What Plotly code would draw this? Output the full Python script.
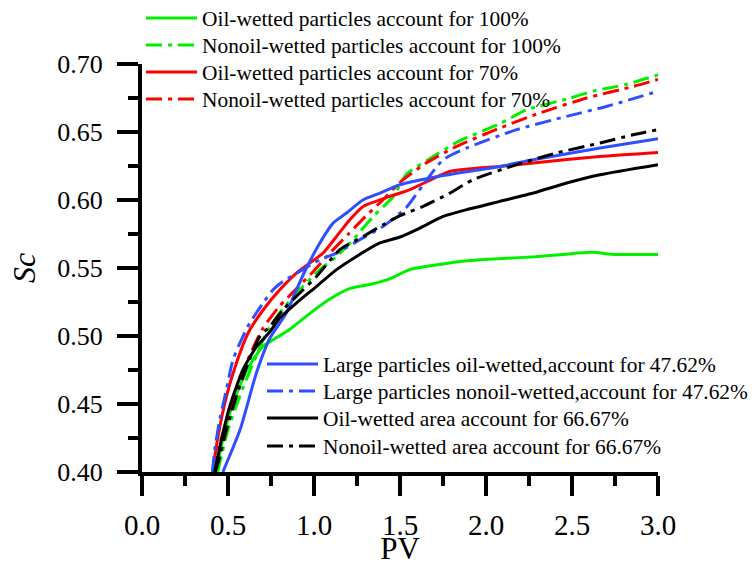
import plotly.graph_objects as go

# ---------------- data ----------------
green_oil_pv = [0.43, 0.47, 0.53, 0.61, 0.70, 0.76, 0.86, 0.98, 1.09, 1.21, 1.33, 1.44, 1.56, 1.75, 1.91, 2.10, 2.29, 2.45, 2.61, 2.75, 3.0]
green_oil_sc = [0.40, 0.424, 0.451, 0.475, 0.492, 0.497, 0.505, 0.517, 0.527, 0.535, 0.538, 0.542, 0.549, 0.553, 0.5555, 0.557, 0.5583, 0.560, 0.5615, 0.560, 0.560]

green_non_pv = [0.44, 0.452, 0.50, 0.568, 0.646, 0.724, 0.80, 0.917, 1.034, 1.131, 1.227, 1.344, 1.461, 1.535, 1.663, 1.837, 2.08, 2.238, 2.477, 2.634, 2.809, 3.0]
green_non_sc = [0.40, 0.4066, 0.431, 0.4556, 0.480, 0.5022, 0.5169, 0.534, 0.5488, 0.5585, 0.5708, 0.5879, 0.6026, 0.6186, 0.6296, 0.6428, 0.6561, 0.6664, 0.6745, 0.6804, 0.6848, 0.692]

red_oil_pv = [0.41, 0.442, 0.491, 0.549, 0.617, 0.705, 0.801, 0.898, 0.976, 1.053, 1.131, 1.208, 1.286, 1.441, 1.558, 1.79, 2.08, 2.275, 2.66, 3.0]
red_oil_sc = [0.40, 0.4262, 0.4556, 0.4801, 0.5022, 0.5193, 0.534, 0.5463, 0.5537, 0.561, 0.5732, 0.5855, 0.5953, 0.6026, 0.6076, 0.621, 0.6247, 0.6272, 0.632, 0.635]

red_non_pv = [0.415, 0.45, 0.5, 0.6, 0.7, 0.8, 0.9, 1.0, 1.1, 1.2, 1.3, 1.4, 1.5, 1.65, 1.829, 2.08, 2.313, 2.585, 2.856, 3.0]
red_non_sc = [0.40, 0.42, 0.44, 0.478, 0.505, 0.522, 0.535, 0.548, 0.562, 0.575, 0.588, 0.600, 0.613, 0.627, 0.6394, 0.6529, 0.664, 0.675, 0.6835, 0.6886]

blue_oil_pv = [0.47, 0.57, 0.665, 0.744, 0.84, 0.898, 0.956, 1.034, 1.111, 1.189, 1.286, 1.383, 1.5, 1.75, 2.08, 2.275, 2.663, 3.0]
blue_oil_sc = [0.40, 0.431, 0.4728, 0.4985, 0.517, 0.534, 0.55, 0.5684, 0.583, 0.5904, 0.6002, 0.6051, 0.6112, 0.618, 0.6247, 0.6296, 0.6382, 0.645]

blue_non_pv = [0.41, 0.423, 0.452, 0.491, 0.529, 0.587, 0.627, 0.704, 0.762, 0.82, 0.917, 1.034, 1.131, 1.266, 1.402, 1.538, 1.635, 1.751, 1.887, 2.178, 2.469, 2.70, 3.0]
blue_non_sc = [0.40, 0.4164, 0.4385, 0.4605, 0.4826, 0.4997, 0.5096, 0.5243, 0.534, 0.5401, 0.5475, 0.5561, 0.561, 0.5708, 0.5806, 0.5947, 0.6113, 0.6296, 0.6382, 0.6517, 0.6615, 0.6688, 0.6799]

black_oil_pv = [0.423, 0.462, 0.51, 0.587, 0.665, 0.743, 0.801, 0.898, 1.015, 1.131, 1.247, 1.383, 1.5, 1.616, 1.751, 1.887, 2.08, 2.275, 2.469, 2.663, 3.0]
black_oil_sc = [0.40, 0.4238, 0.4482, 0.4752, 0.492, 0.503, 0.5132, 0.5243, 0.5365, 0.5488, 0.5585, 0.5684, 0.5728, 0.5794, 0.5879, 0.5929, 0.599, 0.6051, 0.6125, 0.6186, 0.626]

black_non_pv = [0.425, 0.442, 0.491, 0.549, 0.617, 0.685, 0.743, 0.82, 0.937, 1.015, 1.15, 1.286, 1.402, 1.5, 1.635, 1.79, 1.926, 2.178, 2.41, 2.663, 2.856, 3.0]
black_non_sc = [0.40, 0.4066, 0.4311, 0.4556, 0.4801, 0.4997, 0.507, 0.5193, 0.534, 0.5438, 0.5635, 0.5732, 0.5818, 0.5885, 0.5953, 0.6051, 0.615, 0.626, 0.6346, 0.6419, 0.648, 0.6517]

names_top = ["Oil-wetted particles account for 100%",
             "Nonoil-wetted particles account for 100%",
             "Oil-wetted particles account for 70%",
             "Nonoil-wetted particles account for 70%"]
names_bottom = ["Large particles oil-wetted,account for 47.62%",
                "Large particles nonoil-wetted,account for 47.62%",
                "Oil-wetted area account for 66.67%",
                "Nonoil-wetted area account for 66.67%"]

x_ticks = [0.0, 0.5, 1.0, 1.5, 2.0, 2.5, 3.0]
y_ticks = [0.40, 0.45, 0.50, 0.55, 0.60, 0.65, 0.70]

# ---------------- styles ----------------
GREEN = "#00F000"
RED = "#FF0000"
BLUE = "#2F4FFF"
BLACK = "#000000"
DASHDOT = "16px,6px,4px,6px"
FONT = "Liberation Serif"
LW = 3

W, H = 752, 566
ML, MR, MT, MB = 142, 94, 64, 94
PW, PH = W - ML - MR, H - MT - MB


def px_x(px):
    return (px - ML) / PW


def px_y(py):
    return (H - MB - py) / PH


# legend slot: (left pixel, row-centre pixel) for each of the 8 entries
TOP_X, BOT_X = 141, 262
TOP_ROWS = [18, 45, 72, 99]
BOT_ROWS = [364, 391, 418, 446]
slots = [(TOP_X, r) for r in TOP_ROWS] + [(BOT_X, r) for r in BOT_ROWS]

series = [
    (green_oil_pv, green_oil_sc, GREEN, "solid", names_top[0]),
    (green_non_pv, green_non_sc, GREEN, DASHDOT, names_top[1]),
    (red_oil_pv, red_oil_sc, RED, "solid", names_top[2]),
    (red_non_pv, red_non_sc, RED, DASHDOT, names_top[3]),
    (blue_oil_pv, blue_oil_sc, BLUE, "solid", names_bottom[0]),
    (blue_non_pv, blue_non_sc, BLUE, DASHDOT, names_bottom[1]),
    (black_oil_pv, black_oil_sc, BLACK, "solid", names_bottom[2]),
    (black_non_pv, black_non_sc, BLACK, DASHDOT, names_bottom[3]),
]

fig = go.Figure()
legends = {}
for i, (xs, ys, col, dash, name) in enumerate(series):
    key = "legend" if i == 0 else f"legend{i + 1}"
    fig.add_trace(go.Scatter(
        x=xs, y=ys, mode="lines", name=name, legend=key,
        line=dict(color=col, width=LW, dash=dash, shape="spline", smoothing=0.6),
    ))
    lx, ly = slots[i]
    legends[key] = dict(
        x=px_x(lx), y=px_y(ly), xanchor="left", yanchor="middle",
        font=dict(family=FONT, size=21.4, color="black"),
        bgcolor="rgba(0,0,0,0)", borderwidth=0, itemwidth=51,
    )

fig.update_layout(
    width=W, height=H,
    margin=dict(l=ML, r=MR, t=MT, b=MB, autoexpand=False),
    paper_bgcolor="white", plot_bgcolor="white",
    font=dict(family=FONT, color="black"),
    showlegend=True,
    **legends,
)

fig.update_xaxes(
    range=[0, 3.0], tickvals=x_ticks, ticktext=[f"{v:.1f}" for v in x_ticks],
    showline=True, linewidth=4, linecolor="black",
    ticks="outside", ticklen=20, tickwidth=4, tickcolor="black",
    minor=dict(dtick=0.25, tick0=0, ticks="outside", ticklen=10, tickwidth=4, tickcolor="black"),
    showgrid=False, zeroline=False, automargin=False,
    tickfont=dict(family=FONT, size=29, color="black"),
    ticklabelstandoff=4,
    title=dict(text="PV", font=dict(family=FONT, size=31, color="black"), standoff=5),
)
fig.update_yaxes(
    range=[0.40, 0.70], tickvals=y_ticks, ticktext=[f"{v:.2f}" for v in y_ticks],
    showline=True, linewidth=4, linecolor="black",
    ticks="outside", ticklen=21, tickwidth=4, tickcolor="black",
    minor=dict(dtick=0.025, tick0=0.4, ticks="outside", ticklen=10, tickwidth=4, tickcolor="black"),
    showgrid=False, zeroline=False, automargin=False,
    tickfont=dict(family=FONT, size=26, color="black"),
    ticklabelstandoff=9,
    title=dict(text="<i>Sc</i>", font=dict(family=FONT, size=32, color="black"), standoff=13),
)

fig.write_html("out.html")
